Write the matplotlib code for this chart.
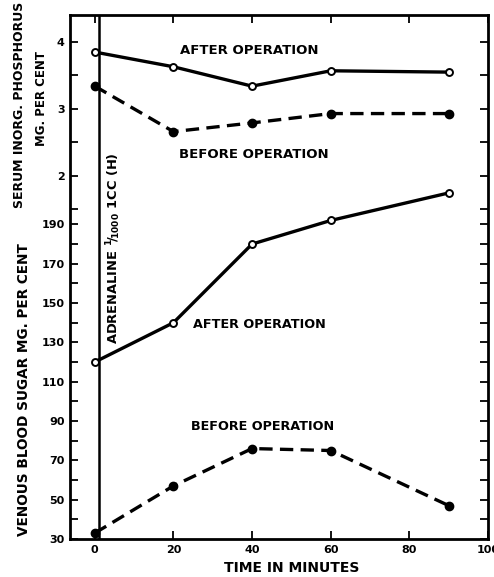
import matplotlib.pyplot as plt
import numpy as np

plt.rcParams['font.family'] = ['DejaVu Sans']
plt.rcParams['font.weight'] = 'bold'
plt.rcParams['axes.labelweight'] = 'bold'

# data
time = [0, 20, 40, 60, 90]
phos_after = [3.85, 3.63, 3.34, 3.57, 3.55]
phos_before = [3.34, 2.66, 2.79, 2.93, 2.93]
sugar_after = [120, 140, 180, 192, 206]
sugar_before = [33, 57, 76, 75, 47]

x_ticks = [0, 20, 40, 60, 80, 100]
sugar_ticks = list(range(30, 200, 10))
sugar_labels = [30, 50, 70, 90, 110, 130, 150, 170, 190]
phos_ticks = [1.5, 2, 2.5, 3, 3.5, 4]
phos_labels = [2, 3, 4]


# phosphorus shares the axis with blood sugar: map onto sugar units
def p2s(p):
    return 146.75 + 34.0 * np.asarray(p, dtype=float)


fig = plt.figure(figsize=(4.94, 5.77), dpi=100)
ax = fig.add_axes([70 / 494, 38 / 577, 418 / 494, 524 / 577])

lw = 2.4
ax.plot(time, p2s(phos_after), '-', color='black', lw=lw,
        marker='o', ms=5, mfc='white', mew=1.4)
ax.plot(time, p2s(phos_before), '--', color='black', lw=lw, dashes=(4, 2.2),
        marker='o', ms=6, mfc='black')
ax.plot(time, sugar_after, '-', color='black', lw=lw,
        marker='o', ms=5, mfc='white', mew=1.4)
ax.plot(time, sugar_before, '--', color='black', lw=lw, dashes=(4, 2.2),
        marker='o', ms=6, mfc='black')

# adrenaline injection
ax.axvline(1, color='black', lw=1.8)
ax.text(4.9, 178, 'ADRENALINE $^{1}\\!/\\!_{1000}$ 1CC (H)', rotation=90,
        ha='center', va='center', fontsize=9.4)

ax.text(39.3, 278.5, 'AFTER OPERATION', ha='center', va='center', fontsize=9.5)
ax.text(40.5, 225.5, 'BEFORE OPERATION', ha='center', va='center', fontsize=9.5)
ax.text(41.8, 139, 'AFTER OPERATION', ha='center', va='center', fontsize=9.2)
ax.text(42.6, 87.4, 'BEFORE OPERATION', ha='center', va='center', fontsize=9.2)

ax.set_xlim(-6.3, 100)
ax.set_ylim(30.5, 296.5)

ax.set_xticks(x_ticks)
ax.set_xticklabels([str(v) for v in x_ticks], fontsize=8)

yt = list(sugar_ticks) + list(p2s(phos_ticks))
yl = [str(v) if v in sugar_labels else '' for v in sugar_ticks]
yl += [str(int(p)) if p in phos_labels else '' for p in phos_ticks]
ax.set_yticks(yt)
ax.set_yticklabels(yl, fontsize=8)

ax.tick_params(direction='in', length=6, width=1.3, top=True, right=True,
               labelright=False, labeltop=False, pad=4)
for s in ax.spines.values():
    s.set_linewidth(2)

ax.set_xlabel('TIME IN MINUTES', fontsize=10, labelpad=5, x=0.531)
fig.text(20 / 494, 1 - 105 / 577, 'SERUM INORG. PHOSPHORUS', rotation=90,
         ha='center', va='center', fontsize=9)
fig.text(41 / 494, 1 - 98 / 577, 'MG. PER CENT', rotation=90,
         ha='center', va='center', fontsize=8.5)
fig.text(24 / 494, 1 - 390 / 577, 'VENOUS BLOOD SUGAR MG. PER CENT',
         rotation=90, ha='center', va='center', fontsize=9.8)

fig.savefig('out.png', dpi=100)
